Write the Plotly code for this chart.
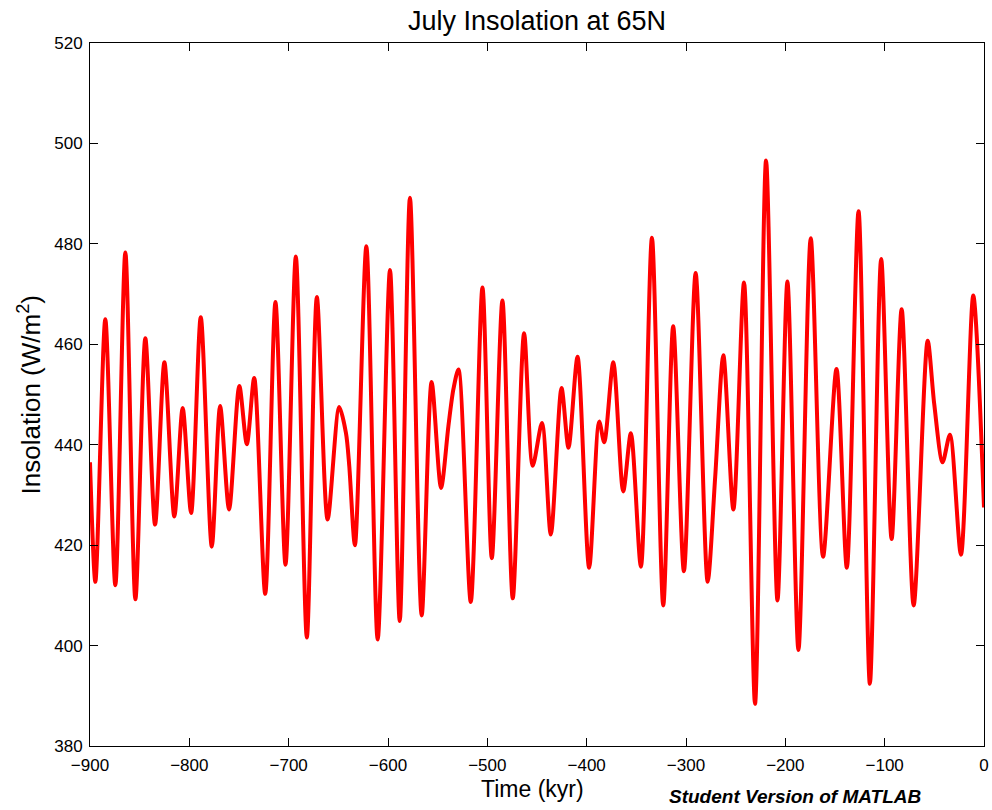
import plotly.graph_objects as go

# Time (kyr) and July insolation at 65N (W/m^2)
time_kyr = [
    -900, -894.6, -884.6, -874.5, -864.4, -854.3, -844.3, -834.5, -825.1, -815.1,
    -806.7, -798.2, -788.5, -777.4, -769.0, -760.0, -749.7, -742.1, -734.7, -723.6,
    -713.3, -703.2, -692.8, -681.7, -671.6, -660.8, -649.1, -642.3, -639.0, -633.3,
    -621.8, -610.4, -598.0, -588.2, -577.9, -566.1, -556.1, -546.6, -539.2, -534.2,
    -529.1, -516.7, -504.9, -495.5, -484.8, -474.4, -463.0, -454.3, -445.0, -436.1,
    -425.3, -418.3, -409.2, -397.5, -387.4, -382.3, -373.2, -363.2, -355.5, -345.4,
    -334.3, -322.9, -312.9, -302.1, -290.3, -278.2, -270.6, -262.4, -252.3, -241.6,
    -230.5, -219.4, -207.9, -197.9, -186.8, -174.4, -162.0, -148.5, -138.1, -126.3,
    -114.9, -103.5, -93.0, -82.9, -70.8, -56.7, -50.1, -41.7, -34.3, -23.2,
    -10.8, 0,
]
insolation = [
    436.5, 412.7, 465.0, 412.0, 478.3, 409.2, 461.2, 424.1, 456.4, 425.7,
    447.3, 426.4, 465.4, 419.7, 447.7, 427.1, 451.7, 440.1, 453.3, 410.3,
    468.4, 416.1, 477.5, 401.6, 469.4, 425.1, 447.5, 442.3, 435.8, 420.0,
    479.5, 401.2, 474.8, 404.9, 489.2, 406.0, 452.5, 431.4, 443.7, 451.0,
    455.0, 408.7, 471.3, 417.4, 468.7, 409.4, 462.2, 435.8, 444.3, 422.1,
    451.3, 439.4, 457.5, 415.5, 444.6, 440.5, 456.4, 430.7, 442.3, 415.7,
    481.2, 408.0, 463.6, 414.8, 474.2, 412.7, 433.6, 457.8, 427.1, 472.3,
    388.4, 496.6, 409.0, 472.5, 399.1, 481.1, 417.7, 455.1, 415.5, 486.5,
    392.4, 477.0, 421.2, 467.0, 408.0, 460.7, 448.1, 436.5, 442.0, 418.1,
    469.7, 427.5,
]

x_ticks = list(range(-900, 1, 100))
y_ticks = list(range(380, 521, 20))

FONT = "Liberation Sans, Arial, Helvetica, sans-serif"

fig = go.Figure()
fig.add_trace(go.Scatter(
    x=time_kyr, y=insolation, mode="lines",
    line=dict(color="#ff0000", width=4, shape="spline", smoothing=0.8),
    hoverinfo="x+y", showlegend=False,
))

axis_common = dict(
    showgrid=False, zeroline=False, showline=True, linecolor="black", linewidth=1,
    mirror="ticks", ticks="inside", ticklen=8, tickwidth=1, tickcolor="black",
    automargin=False,
    tickfont=dict(family=FONT, size=17, color="black"),
)

fig.update_xaxes(range=[-900, 0], tickvals=x_ticks, ticklabelstandoff=4, **axis_common)
fig.update_yaxes(range=[380, 520], tickvals=y_ticks, ticklabelstandoff=3, **axis_common)

fig.update_layout(
    width=992, height=810,
    margin=dict(l=90, r=8, t=43, b=64, autoexpand=False),
    paper_bgcolor="white", plot_bgcolor="white",
    font=dict(family=FONT, color="black"),
    title=dict(text="July Insolation at 65N", x=0.5, xref="paper", xanchor="center",
               y=1 - 21 / 810, yref="container", yanchor="middle",
               font=dict(family=FONT, size=27, color="black")),
    annotations=[
        dict(text="Time (kyr)", xref="paper", yref="paper", x=0.495, y=-(789 - 746) / 703,
             xanchor="center", yanchor="middle", showarrow=False,
             font=dict(family=FONT, size=23, color="black")),
        dict(text="Insolation (W/m<sup>2</sup>)", xref="paper", yref="paper",
             x=-60 / 893, y=0.5, xanchor="center", yanchor="middle", textangle=-90,
             showarrow=False, font=dict(family=FONT, size=26, color="black")),
        dict(text="<b><i>Student Version of MATLAB</i></b>", xref="paper", yref="paper",
             x=(795 - 90) / 893, y=-(797 - 746) / 703, xanchor="center", yanchor="middle",
             showarrow=False, font=dict(family=FONT, size=19, color="black")),
    ],
)

fig.write_html("out.html")
